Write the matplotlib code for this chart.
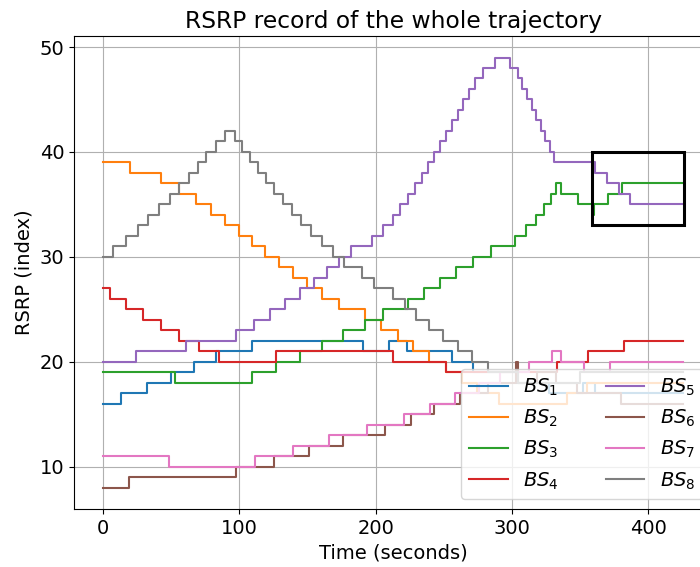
import matplotlib
matplotlib.use("Agg")
import matplotlib.pyplot as plt
from matplotlib.patches import Rectangle

plt.rcParams['font.family'] = ['DejaVu Sans']
plt.rcParams['font.size'] = 14

T_END = 425

bs1_t = [0, 13, 32, 50, 67, 83, 109, 191, 210, 223, 256, 271, 303, 327, 352, 361]
bs1_v = [16, 17, 18, 19, 20, 21, 22, 21, 22, 21, 20, 19, 18, 17, 18, 17]

bs2_t = [0, 20, 42.4, 56, 68.5, 79, 89.7, 99.5, 109.2, 118.5, 128.7, 139.2, 149.7,
         160.7, 172.9, 192.4, 203.9, 216, 227, 238.7, 251.4, 263.6, 274.6, 290.5, 340, 355]
bs2_v = [39, 38, 37, 36, 35, 34, 33, 32, 31, 30, 29, 28, 27,
         26, 25, 24, 23, 22, 21, 20, 19, 18, 17, 16, 17, 18]

bs3_t = [0, 52.5, 109.2, 127, 144.6, 160.4, 175.8, 192.4, 205, 223.3, 235.5, 247, 258.7,
         271, 284.8, 301.9, 310, 317.3, 323.3, 328.2, 332.3, 335.5, 348.2, 359, 359.8, 370.2, 380.6]
bs3_v = [19, 18, 19, 20, 21, 22, 23, 24, 25, 26, 27, 28, 29,
         30, 31, 32, 33, 34, 35, 36, 37, 36, 35, 34, 35, 36, 37]

bs4_t = [0, 5, 16.6, 29.5, 42.2, 55.8, 70.2, 85.1, 126.6, 212.4, 251.4, 333, 356, 382]
bs4_v = [27, 26, 25, 24, 23, 22, 21, 20, 21, 20, 19, 20, 21, 22]

bs5_t = [0, 23.9, 60.7, 97.8, 110.5, 122.2, 133.3, 144.6, 154.6, 164.4, 173.4, 182, 197.3,
         205, 212.4, 217.8, 223.3, 228.7, 233.6, 238, 242.9, 247.3, 251.4, 255.8, 260, 264,
         268.5, 272.9, 278.7, 287.5, 298.2, 304.6, 307.5, 311.1, 314.3, 317.7, 320.9, 324,
         327.5, 330.7, 360.6, 369.6, 378.2, 386.7]
bs5_v = [20, 21, 22, 23, 24, 25, 26, 27, 28, 29, 30, 31, 32,
         33, 34, 35, 36, 37, 38, 39, 40, 41, 42, 43, 44, 45,
         46, 47, 48, 49, 48, 47, 46, 45, 44, 43, 42, 41,
         40, 39, 38, 37, 36, 35]

bs6_t = [0, 19.3, 97.3, 125.3, 151.4, 176.3, 206.8, 225.8, 242.4, 262, 282, 302.5, 304.5,
         318, 332, 347.5, 380]
bs6_v = [8, 9, 10, 11, 12, 13, 14, 15, 16, 17, 18, 20, 18,
         19, 18, 17, 16]

bs7_t = [0, 48.3, 111.2, 139.2, 166, 193.6, 220.9, 240, 258, 276, 291, 312.4, 329.4, 335.5,
         352.6, 372]
bs7_v = [11, 10, 11, 12, 13, 14, 15, 16, 17, 18, 19, 20, 21, 20,
         19, 20]

bs8_t = [0, 7.5, 16.6, 25.4, 33, 41.2, 49, 55.8, 62.9, 69.3, 75.8, 82.7, 89.2, 96.6, 102.2,
         107.5, 113.6, 119.2, 125.3, 131.9, 138.5, 145.3, 152.7, 160.7, 168.5, 177, 190, 199,
         212.4, 221.6, 229.5, 239.2, 249, 260, 270.4, 282, 304, 350]
bs8_v = [30, 31, 32, 33, 34, 35, 36, 37, 38, 39, 40, 41, 42, 41, 40,
         39, 38, 37, 36, 35, 34, 33, 32, 31, 30, 29, 28, 27,
         26, 25, 24, 23, 22, 21, 20, 19, 18, 19]

series_t = [bs1_t, bs2_t, bs3_t, bs4_t, bs5_t, bs6_t, bs7_t, bs8_t]
series_v = [bs1_v, bs2_v, bs3_v, bs4_v, bs5_v, bs6_v, bs7_v, bs8_v]
labels = ['$BS_1$', '$BS_2$', '$BS_3$', '$BS_4$', '$BS_5$', '$BS_6$', '$BS_7$', '$BS_8$']

box_x = [358.5, 426]
box_y = [33, 40]

fig = plt.figure(figsize=(7.0, 5.67), dpi=100)
ax = fig.add_axes([74 / 700, 58 / 567, 639 / 700, 473 / 567])

for t, v, lab in zip(series_t, series_v, labels):
    ax.plot(list(t) + [T_END], list(v) + [v[-1]], drawstyle='steps-post', label=lab, lw=1.5)

ax.add_patch(Rectangle((box_x[0], box_y[0]), box_x[1] - box_x[0], box_y[1] - box_y[0],
                       fill=False, edgecolor='black', lw=2.2, zorder=5))

ax.grid(True)
ax.set_xticks([0, 100, 200, 300, 400])
ax.set_yticks([10, 20, 30, 40, 50])
ax.set_title('RSRP record of the whole trajectory', fontsize=16.8)
ax.set_xlabel('Time (seconds)')
ax.set_ylabel('RSRP (index)')
ax.legend(loc='lower right', ncol=2, columnspacing=2.4)

fig.savefig('out.png', dpi=100)
